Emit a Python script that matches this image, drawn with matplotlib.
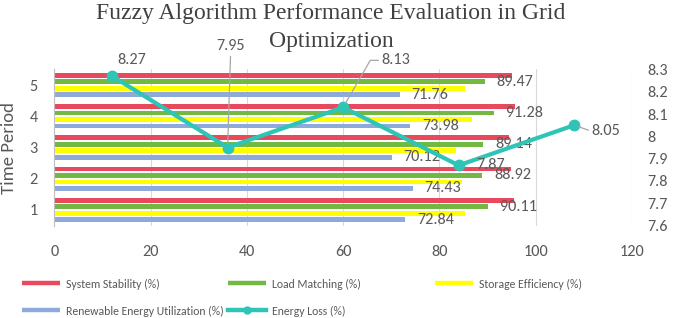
import matplotlib
matplotlib.use("Agg")
import matplotlib.pyplot as plt
from matplotlib import font_manager
from matplotlib.lines import Line2D
import numpy as np

# ---------------- data ----------------
periods = ["1", "2", "3", "4", "5"]
system_stability = [95.5, 94.9, 94.5, 95.8, 95.1]
load_matching = [90.11, 88.92, 89.14, 91.28, 89.47]
storage_efficiency = [85.3, 84.7, 83.5, 86.8, 85.4]
renewable_utilization = [72.84, 74.43, 70.12, 73.98, 71.76]
energy_loss = [8.27, 7.95, 8.13, 7.87, 8.05]
x_ticks = [0, 20, 40, 60, 80, 100, 120]
y2_ticks = [7.6, 7.7, 7.8, 7.9, 8.0, 8.1, 8.2, 8.3]
y2_ticklabels = ["7.6", "7.7", "7.8", "7.9", "8", "8.1", "8.2", "8.3"]
series_names = ["System Stability (%)", "Load Matching (%)",
                "Storage Efficiency (%)", "Renewable Energy Utilization (%)"]
line_name = "Energy Loss (%)"
title_lines = ["Fuzzy Algorithm Performance Evaluation in Grid", "Optimization"]


def pick(*names):
    for n in names:
        try:
            font_manager.findfont(n, fallback_to_default=False)
            return n
        except Exception:
            pass
    return "DejaVu Sans"


SANS = pick("Carlito", "Lato", "Open Sans", "DejaVu Sans")
SERIF = pick("Liberation Serif", "DejaVu Serif")
plt.rcParams["font.family"] = [SANS, "DejaVu Sans"]

TXT = "#595959"
RED = "#E8495C"
GREEN = "#72B843"
YELLOW = "#FFFF00"
BLUE = "#8EAADB"
TEAL = "#2EC4B6"
GRID = "#D9D9D9"
FS = 11.7

W, H = 685, 318
fig = plt.figure(figsize=(W / 100, H / 100), dpi=100)
pos = [54.3 / W, 1 - 225.6 / H, (632 - 54.3) / W, (225.6 - 69.4) / H]
ax = fig.add_axes(pos)

idx = np.arange(len(periods))
bh = 0.15
offs = [0.312, 0.104, -0.104, -0.312]
cols = [RED, GREEN, YELLOW, BLUE]
vals = [system_stability, load_matching, storage_efficiency, renewable_utilization]
containers = []
for v, o, c in zip(vals, offs, cols):
    containers.append(ax.barh(idx + o, v, height=bh, color=c, zorder=2))

for k in (1, 3):
    ax.bar_label(containers[k], labels=[f"{v:.2f}" for v in vals[k]],
                 padding=8.5, fontsize=FS, color=TXT, zorder=5)

ax.set_xlim(0, 120)
ax.set_ylim(-0.5, 4.5)
ax.set_xticks(x_ticks)
ax.set_xticklabels([str(t) for t in x_ticks])
ax.set_yticks(idx)
ax.set_yticklabels(periods)
ax.tick_params(axis="x", length=0, pad=14, labelsize=FS, labelcolor=TXT)
ax.tick_params(axis="y", length=0, pad=12, labelsize=FS, labelcolor=TXT)
ax.grid(axis="x", color=GRID, lw=0.8, zorder=0)
for s in ["top", "right", "bottom"]:
    ax.spines[s].set_visible(False)
ax.spines["left"].set_color("#BFBFBF")
ax.spines["left"].set_linewidth(0.8)
ax.set_ylabel("Time Period", fontsize=13.5, color=TXT, labelpad=9)

# secondary axes for the line (hidden category x-axis, right value axis)
ax2 = fig.add_axes(pos, frameon=False)
ax2.patch.set_visible(False)
ax2.set_xlim(-0.5, len(periods) - 0.5)
ax2.set_ylim(7.6, 8.3)
ax2.plot(idx, energy_loss, color=TEAL, lw=3, marker="o", ms=7.5, zorder=4,
         solid_capstyle="round")
ax2.xaxis.set_visible(False)
ax2.yaxis.tick_right()
ax2.set_yticks(y2_ticks)
ax2.set_yticklabels(y2_ticklabels)
ax2.tick_params(axis="y", length=0, pad=11, labelsize=FS, labelcolor=TXT)

lead = dict(arrowstyle="-", color="#A6A6A6", lw=0.9, shrinkA=0, shrinkB=3)
lab_kw = dict(textcoords="offset pixels", fontsize=FS, color=TXT, zorder=6)
ax2.annotate(f"{energy_loss[0]:.2f}", (idx[0], energy_loss[0]), xytext=(20, 16),
             ha="center", va="center", **lab_kw)
ax2.annotate(f"{energy_loss[1]:.2f}", (idx[1], energy_loss[1]), xytext=(3, 101),
             ha="center", va="center", arrowprops=dict(relpos=(0.5, 0), **lead),
             **lab_kw)
ax2.annotate(f"{energy_loss[2]:.2f}", (idx[2], energy_loss[2]), xytext=(38, 47),
             ha="left", va="center",
             arrowprops=dict(relpos=(0, 0.5),
                             connectionstyle="angle,angleA=0,angleB=60,rad=0",
                             **lead), **lab_kw)
ax2.annotate(f"{energy_loss[3]:.2f}", (idx[3], energy_loss[3]), xytext=(18, 0),
             ha="left", va="center", **lab_kw)
ax2.annotate(f"{energy_loss[4]:.2f}", (idx[4], energy_loss[4]), xytext=(17, -6),
             ha="left", va="center",
             arrowprops=dict(relpos=(0, 0.5), **lead), **lab_kw)

# title (two lines)
for line, ty in zip(title_lines, (14, 41)):
    fig.text(331 / W, 1 - ty / H, line, ha="center", va="center",
             fontsize=17, family=SERIF, color="#404040")

# legend: one entry per slot
handles = [Line2D([], [], color=c, lw=3.2, solid_capstyle="butt") for c in cols]
handles.append(Line2D([], [], color=TEAL, lw=3.2, marker="o", ms=5))
names = series_names + [line_name]
slots = [(22, 284), (228, 284), (435, 284), (22, 311), (228, 311)]
for h, n, (px, py) in zip(handles, names, slots):
    fig.legend([h], [n], loc="center left",
               bbox_to_anchor=(px / W, 1 - py / H), frameon=False,
               borderpad=0, borderaxespad=0, handlelength=3.2,
               handletextpad=0.5, fontsize=8.5, labelcolor=TXT)

fig.savefig("out.png", dpi=100)
